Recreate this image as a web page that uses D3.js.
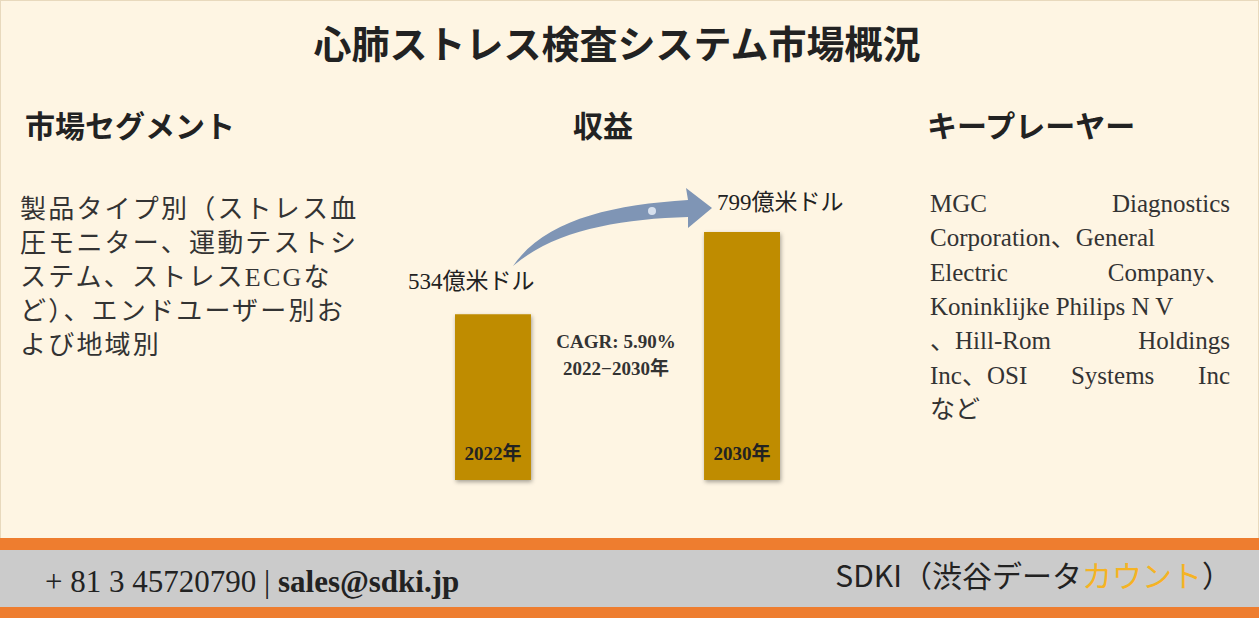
<!DOCTYPE html>
<html><head><meta charset="utf-8">
<script src="https://cdn.jsdelivr.net/npm/d3@7"></script>
<style>body{margin:0;background:#fff}</style></head>
<body><svg id="c" width="1259" height="635"></svg>
<script>
const title = "心肺ストレス検査システム市場概況";
const headers = ["市場セグメント","収益","キープレーヤー"];
const years = ["2022年","2030年"];
const values = [534, 799];
const valueLabels = ["534億米ドル","799億米ドル"];
const cagrLines = ["CAGR: 5.90%","2022−2030年"];
const segmentLines = ["製品タイプ別（ストレス血","圧モニター、運動テストシ","ステム、ストレスECGな","ど）、エンドユーザー別お","よび地域別"];
const playerLines = [["MGC","Diagnostics"],["Corporation、General"],["Electric","Company、"],["Koninklijke Philips N V"],["、Hill-Rom","Holdings"],["Inc、OSI","Systems","Inc"],["など"]];
const justify = [true,false,true,false,true,true,false];

const svg = d3.select("#c");
const F = "'Liberation Serif','Noto Sans CJK JP',serif";
svg.append("rect").attr("x",0.5).attr("y",0.5).attr("width",1258).attr("height",540).attr("fill","#FEF5E3").attr("stroke","#e8d9bd");
svg.append("rect").attr("x",0).attr("y",538).attr("width",1259).attr("height",80).attr("fill","#EE7D2F");
svg.append("rect").attr("x",0).attr("y",550).attr("width",1259).attr("height",57).attr("fill","#CBCBCB");

svg.append("text").attr("x",617).attr("y",58).attr("text-anchor","middle").attr("font-family",F).attr("font-size",38).attr("font-weight","bold").attr("fill","#222").text(title);
const hx=[[25,"start"],[603,"middle"],[927,"start"]];
headers.forEach((h,i)=>svg.append("text").attr("x",hx[i][0]).attr("y",137).attr("text-anchor",hx[i][1]).attr("font-family",F).attr("font-size",30).attr("font-weight","bold").attr("fill","#222").text(h));

segmentLines.forEach((l,i)=>svg.append("text").attr("x",20).attr("y",218+i*34).attr("font-family",F).attr("font-size",26).attr("letter-spacing",2.2).attr("fill","#333").text(l));

playerLines.forEach((words,i)=>{
  const y=212+i*34.3;
  if(!justify[i]){svg.append("text").attr("x",930).attr("y",y).attr("font-family",F).attr("font-size",25).attr("fill","#333").text(words.join(" "));return;}
  const ts=words.map(w=>svg.append("text").attr("y",y).attr("font-family",F).attr("font-size",25).attr("fill","#333").text(w));
  const ws=ts.map(t=>t.node().getComputedTextLength());
  const gap=(300-d3.sum(ws))/(words.length-1);
  let x=930; ts.forEach((t,j)=>{t.attr("x",x);x+=ws[j]+gap;});
});

// bars
const x = d3.scaleBand().domain(years).range([455,780]).paddingInner(0.695).paddingOuter(0);
const y = d3.scaleLinear().domain([0,799]).range([480,232]);
const defs=svg.append("defs");
defs.append("filter").attr("id","sh").append("feDropShadow").attr("dx",1).attr("dy",2).attr("stdDeviation",2).attr("flood-opacity",0.35);
years.forEach((yr,i)=>{
  svg.append("rect").attr("x",x(yr)).attr("y",y(values[i])).attr("width",x.bandwidth()).attr("height",480-y(values[i])).attr("fill","#BF8C00").attr("filter","url(#sh)");
  svg.append("text").attr("x",x(yr)+x.bandwidth()/2).attr("y",460).attr("text-anchor","middle").attr("font-family",F).attr("font-size",19).attr("font-weight","bold").attr("fill","#222").text(yr);
});
svg.append("text").attr("x",408).attr("y",289).attr("font-family",F).attr("font-size",23).attr("fill","#222").text(valueLabels[0]);
svg.append("text").attr("x",717).attr("y",210).attr("font-family",F).attr("font-size",23).attr("fill","#222").text(valueLabels[1]);
cagrLines.forEach((l,i)=>svg.append("text").attr("x",616).attr("y",348+i*27).attr("text-anchor","middle").attr("font-family",F).attr("font-size",19).attr("font-weight","bold").attr("fill","#333").text(l));

// arrow
svg.append("path").attr("d","M513,266 C545,220 610,205 688,200 L686,188 L712,208 L688,228 L688,217 C620,219 555,230 513,266 Z").attr("fill","#7F95B5");
svg.append("circle").attr("cx",652).attr("cy",211).attr("r",4).attr("fill","#D6E0EE");

svg.append("text").attr("x",45).attr("y",592).attr("font-family",F).attr("font-size",31).attr("fill","#222").text("+ 81 3 45720790 | ").append("tspan").attr("font-weight","bold").text("sales@sdki.jp");
const t=svg.append("text").attr("x",1232).attr("y",587).attr("text-anchor","end").attr("font-family","'Noto Sans CJK JP',sans-serif").attr("font-size",30).attr("fill","#222");
t.append("tspan").text("SDKI（渋谷データ");
t.append("tspan").attr("fill","#F5B324").text("カウント");
t.append("tspan").text("）");
</script></body></html>
